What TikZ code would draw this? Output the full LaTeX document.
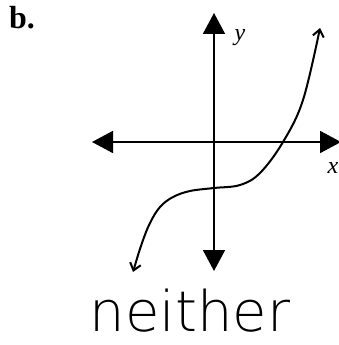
\documentclass[tikz,border=0pt]{standalone}
\usepackage{fontspec}
\setmainfont{Liberation Serif}
\newfontfamily\handfont{DejaVu Sans ExtraLight}
\usetikzlibrary{arrows.meta}

\begin{document}
\begin{tikzpicture}[x=1pt,y=-1pt,
  axis/.style={line width=1.8pt, {Triangle[length=21pt,width=22pt]}-{Triangle[length=21pt,width=22pt]}},
  graph/.style={line width=2pt, {Straight Barb[length=7pt,width=11pt]}-{Straight Barb[length=7pt,width=11pt]}},
  lbl/.style={font=\fontsize{24}{24}\selectfont\itshape, inner sep=0pt}
]
  \useasboundingbox (0,0) rectangle (338,345);
  \node[font=\fontsize{32}{32}\selectfont\bfseries, anchor=base west, inner sep=0pt] (part) at (9,29) {b.};

  \coordinate (ytop) at (214,13);
  \coordinate (ybot) at (214,271);
  \coordinate (xleft) at (92,142);
  \coordinate (xright) at (341,142);
  \draw[axis] (ybot) -- (ytop);
  \draw[axis] (xleft) -- (xright);
  \node[lbl] (ylabel) at (240,38) {y};
  \node[lbl] (xlabel) at (333,168) {x};

  \draw[graph] plot[smooth, tension=0.6] coordinates {(133,272) (142,243) (150,223) (160,207) (173,197) (190,191) (214,188) (240,185) (260,173) (283,142) (303,100) (320,28)};

  \node[font=\handfont\fontsize{56}{56}\selectfont, anchor=base, inner sep=0pt] (answer) at (190,331) {neither};
\end{tikzpicture}
\end{document}
